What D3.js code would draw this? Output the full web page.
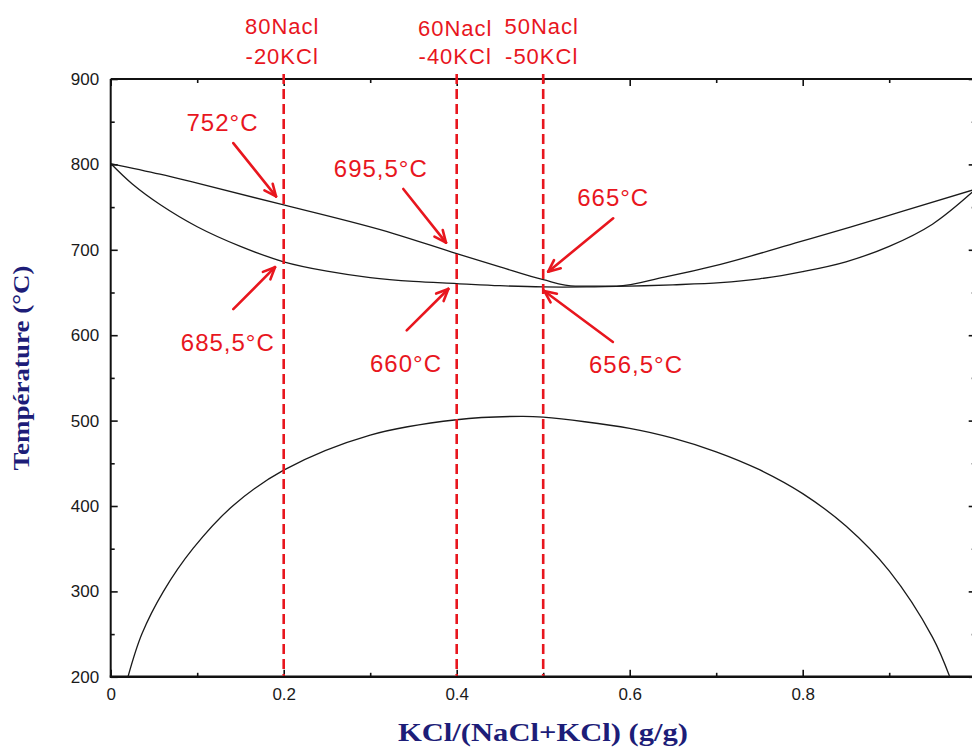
<!DOCTYPE html>
<html><head><meta charset="utf-8">
<script src="https://cdn.jsdelivr.net/npm/d3@7"></script>
<style>
html,body{margin:0;padding:0;background:#fff;overflow:hidden}
svg{display:block}
</style></head>
<body>
<svg id="c" width="972" height="749"></svg>
<script>
// ---- data ----
const liquidusX = [0, 0.057, 0.1, 0.2, 0.327, 0.4, 0.45, 0.5, 0.537, 0.585, 0.64, 0.705, 0.797, 0.855, 0.913, 1.0];
const liquidusT = [801, 788.5, 778, 752.5, 719, 695.5, 680, 665, 657.5, 657.5, 668, 683, 709.5, 726.5, 744.5, 771];
const solidusX = [0, 0.025, 0.057, 0.1, 0.15, 0.2, 0.25, 0.3, 0.35, 0.4, 0.45, 0.5, 0.55, 0.6, 0.65, 0.705, 0.75, 0.8, 0.85, 0.9, 0.95, 1.0];
const solidusT = [801, 777, 753, 727, 704, 686, 675, 667.5, 663, 660.5, 658, 656.5, 656.5, 657.5, 659, 661.5, 666, 674.5, 686, 704, 730, 771];
const solvusX = [0.020, 0.036, 0.061, 0.095, 0.141, 0.2, 0.3, 0.4, 0.475, 0.5, 0.6, 0.65, 0.7, 0.75, 0.8, 0.85, 0.9, 0.95, 0.970];
const solvusT = [200, 250, 300, 350, 400, 442, 483, 501, 505, 504, 491, 479.5, 463.5, 442.5, 414.5, 376.5, 324, 246.5, 200];

const compositions = [0.2, 0.4, 0.5];
const compLabel1 = ["80Nacl", "60Nacl", "50Nacl"];
const compLabel2 = ["-20KCl", "-40KCl", "-50KCl"];
const liqTemps = [752, 695.5, 665];
const liqLabels = ["752°C", "695,5°C", "665°C"];
const solTemps = [685.5, 660, 656.5];
const solLabels = ["685,5°C", "660°C", "656,5°C"];

const xMajor = [0, 0.2, 0.4, 0.6, 0.8, 1];
const xMinor = [0.1, 0.3, 0.5, 0.7, 0.9];
const yMajor = [200, 300, 400, 500, 600, 700, 800, 900];
const yMinor = [250, 350, 450, 550, 650, 750, 850];

// ---- layout ----
const L = 110.7, R = 975.7, T = 79, B = 676.8;
const svg = d3.select("#c");
const x = d3.scaleLinear().domain([0, 1]).range([L, R]);
const y = d3.scaleLinear().domain([200, 900]).range([B, T]);
const red = "#e8161e";
const navy = "#1d1d78";

svg.append("rect").attr("width", 972).attr("height", 749).attr("fill", "#fff");

function styleAxis(g) {
  g.select(".domain").remove();
  g.selectAll(".tick line").attr("stroke", "#111").attr("stroke-width", 1.6);
  g.selectAll("text").attr("font-family", "'Liberation Sans', Arial, sans-serif")
    .attr("font-size", 17).attr("fill", "#1a1a1a");
}
const fmt = d3.format("~g");
svg.append("g").attr("transform", `translate(0,${B})`)
  .call(d3.axisBottom(x).tickValues(xMajor).tickSize(-7).tickPadding(11).tickFormat(fmt)).call(styleAxis);
svg.append("g").attr("transform", `translate(0,${B})`)
  .call(d3.axisBottom(x).tickValues(xMinor).tickSize(-4).tickFormat("")).call(styleAxis);
svg.append("g").attr("transform", `translate(0,${T})`)
  .call(d3.axisTop(x).tickValues(xMajor).tickSize(-7).tickFormat("")).call(styleAxis);
svg.append("g").attr("transform", `translate(0,${T})`)
  .call(d3.axisTop(x).tickValues(xMinor).tickSize(-4).tickFormat("")).call(styleAxis);
svg.append("g").attr("transform", `translate(${L},0)`)
  .call(d3.axisLeft(y).tickValues(yMajor).tickSize(-7).tickPadding(11.5).tickFormat(fmt)).call(styleAxis);
svg.append("g").attr("transform", `translate(${L},0)`)
  .call(d3.axisLeft(y).tickValues(yMinor).tickSize(-4).tickFormat("")).call(styleAxis);
svg.append("g").attr("transform", `translate(${R},0)`)
  .call(d3.axisRight(y).tickValues(yMajor).tickSize(-7).tickFormat("")).call(styleAxis);
svg.append("g").attr("transform", `translate(${R},0)`)
  .call(d3.axisRight(y).tickValues(yMinor).tickSize(-4).tickFormat("")).call(styleAxis);

// frame
svg.append("line").attr("x1", L).attr("x2", L).attr("y1", T).attr("y2", B).attr("stroke", "#111").attr("stroke-width", 2);
svg.append("line").attr("x1", L).attr("x2", R).attr("y1", T).attr("y2", T).attr("stroke", "#111").attr("stroke-width", 2);
svg.append("line").attr("x1", L - 1).attr("x2", R).attr("y1", B).attr("y2", B).attr("stroke", "#111").attr("stroke-width", 2.6);
svg.append("line").attr("x1", R).attr("x2", R).attr("y1", T).attr("y2", B).attr("stroke", "#111").attr("stroke-width", 2);

// curves
const lineMono = d3.line().x(d => x(d[0])).y(d => y(d[1])).curve(d3.curveMonotoneX);
const lineSmooth = d3.line().x(d => x(d[0])).y(d => y(d[1])).curve(d3.curveCatmullRom.alpha(0.5));
[[liquidusX, liquidusT, lineMono], [solidusX, solidusT, lineSmooth], [solvusX, solvusT, lineSmooth]].forEach(([xs, ts, ln]) => {
  svg.append("path").datum(xs.map((v, i) => [v, ts[i]])).attr("d", ln)
    .attr("fill", "none").attr("stroke", "#1a1a1a").attr("stroke-width", 1.3);
});

// dashed composition lines
svg.selectAll(".comp").data(compositions).join("line")
  .attr("x1", d => x(d)).attr("x2", d => x(d)).attr("y1", 74).attr("y2", B - 1)
  .attr("stroke", red).attr("stroke-width", 2.6).attr("stroke-dasharray", "10,5");

const redFont = "'Liberation Sans', Arial, sans-serif";
const lab1Base = [34, 36, 34];
compositions.forEach((c, i) => {
  svg.append("text").attr("x", x(c) - 1.5).attr("y", lab1Base[i]).attr("text-anchor", "middle")
    .attr("font-family", redFont).attr("font-size", 22).attr("letter-spacing", 1).attr("fill", red).text(compLabel1[i]);
  svg.append("text").attr("x", x(c) - 1.5).attr("y", 64).attr("text-anchor", "middle")
    .attr("font-family", redFont).attr("font-size", 22).attr("letter-spacing", 1).attr("fill", red).text(compLabel2[i]);
});

// arrows + temperature labels (offsets in px)
const liqLayout = [
  {tip: [-7.7, -9], tail: [-42.7, -53.3], lab: [-53.5, -65.3]},
  {tip: [-10.7, -11], tail: [-42.7, -53.7], lab: [-65.2, -65.4]},
  {tip: [5, -8], tail: [65, -53.4], lab: [65, -65.7]}
];
const solLayout = [
  {tip: [-8.7, 5], tail: [-41.7, 42], lab: [-47.2, 83.7]},
  {tip: [-8.4, 5], tail: [-41.6, 41.4], lab: [-42.3, 83.4]},
  {tip: [1, 4], tail: [68.7, 51], lab: [91.8, 81.6]}
];
function arrow(px, py, lay, label) {
  const tx = px + lay.tip[0], ty = py + lay.tip[1];
  const sx = tx + lay.tail[0], sy = ty + lay.tail[1];
  svg.append("line").attr("x1", sx).attr("y1", sy).attr("x2", tx).attr("y2", ty)
    .attr("stroke", red).attr("stroke-width", 2.6).attr("stroke-linecap", "round");
  const ang = Math.atan2(ty - sy, tx - sx);
  const hl = 13, ha = 0.42;
  [ang + Math.PI - ha, ang + Math.PI + ha].forEach(a => {
    svg.append("line").attr("x1", tx).attr("y1", ty)
      .attr("x2", tx + hl * Math.cos(a)).attr("y2", ty + hl * Math.sin(a))
      .attr("stroke", red).attr("stroke-width", 2.6).attr("stroke-linecap", "round");
  });
  svg.append("text").attr("x", tx + lay.lab[0]).attr("y", ty + lay.lab[1]).attr("text-anchor", "middle")
    .attr("font-family", redFont).attr("font-size", 24).attr("letter-spacing", 1).attr("fill", red).text(label);
}
compositions.forEach((c, i) => {
  arrow(x(c), y(liqTemps[i]), liqLayout[i], liqLabels[i]);
  arrow(x(c), y(solTemps[i]), solLayout[i], solLabels[i]);
});

// axis titles
svg.append("text").attr("transform", `translate(29,368) rotate(-90)`).attr("text-anchor", "middle")
  .attr("font-family", "'Liberation Serif', 'Times New Roman', serif").attr("font-weight", "bold")
  .attr("font-size", 23).attr("fill", navy)
  .attr("textLength", 205).attr("lengthAdjust", "spacingAndGlyphs").text("Température (°C)");
svg.append("text").attr("x", 543).attr("y", 741).attr("text-anchor", "middle")
  .attr("font-family", "'Liberation Serif', 'Times New Roman', serif").attr("font-weight", "bold")
  .attr("font-size", 25).attr("fill", navy)
  .attr("textLength", 290).attr("lengthAdjust", "spacingAndGlyphs").text("KCl/(NaCl+KCl) (g/g)");
</script>
</body></html>
